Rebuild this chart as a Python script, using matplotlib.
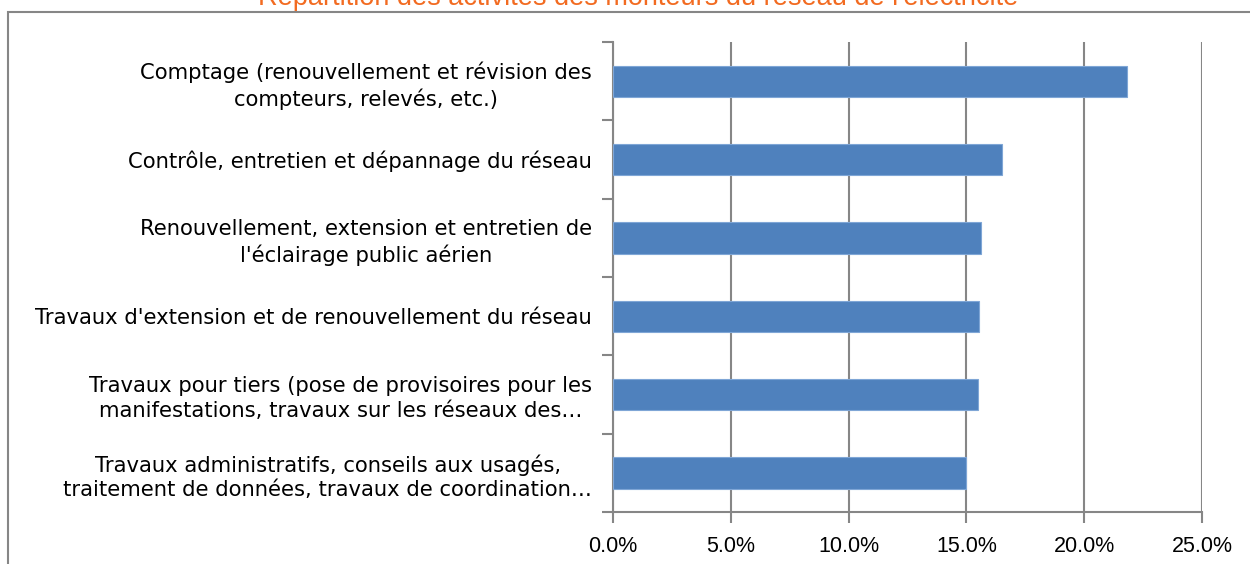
import matplotlib
matplotlib.use("Agg")
import matplotlib.pyplot as plt
from matplotlib.patches import Rectangle
from matplotlib.ticker import FuncFormatter, FixedLocator

# categories from bottom to top (as drawn)
categories = [
    "Travaux administratifs, conseils aux usagés,\ntraitement de données, travaux de coordination…",
    "Travaux pour tiers (pose de provisoires pour les\nmanifestations, travaux sur les réseaux des…",
    "Travaux d'extension et de renouvellement du réseau",
    "Renouvellement, extension et entretien de\nl'éclairage public aérien",
    "Contrôle, entretien et dépannage du réseau",
    "Comptage (renouvellement et révision des\ncompteurs, relevés, etc.)",
]
values = [0.150, 0.155, 0.1555, 0.156, 0.165, 0.218]
xticks = [0.0, 0.05, 0.10, 0.15, 0.20, 0.25]

title = "Répartition des activités des monteurs du réseau de l'électricité"

bar_color = "#4F81BD"
grid_color = "#868686"

fig = plt.figure(figsize=(12.5, 5.64), dpi=100)
ax = fig.add_axes([613 / 1250, 52 / 564, 589 / 1250, 470 / 564])

pos = list(range(len(categories)))
ax.barh(pos, values, height=0.4, color=bar_color, edgecolor="#7FA6D6", linewidth=0.8, zorder=3)

ax.set_xlim(0, 0.25)
ax.set_ylim(-0.5, len(categories) - 0.5)
ax.xaxis.set_major_locator(FixedLocator(xticks))
ax.xaxis.set_major_formatter(FuncFormatter(lambda v, p: f"{v * 100:.1f}%"))
ax.grid(axis="x", color=grid_color, linewidth=1.5, zorder=1)

ax.set_yticks(pos)
ax.set_yticklabels(categories, fontsize=15.2, family="DejaVu Sans",
                   multialignment="center", linespacing=1.3)
ax.set_yticks([p - 0.5 for p in range(len(categories) + 1)], minor=True)
ax.tick_params(axis="y", which="major", length=0, pad=15)
ax.tick_params(axis="y", which="minor", length=8, width=1.5, color=grid_color, direction="out")
ax.tick_params(axis="x", length=8, width=1.5, color=grid_color, direction="out", pad=9)
for lab in ax.get_xticklabels():
    lab.set_family("Liberation Sans")
    lab.set_fontsize(15.5)

for side in ["top", "right"]:
    ax.spines[side].set_visible(False)
for side in ["left", "bottom"]:
    ax.spines[side].set_color(grid_color)
    ax.spines[side].set_linewidth(1.5)

# outer chart border, partly outside the picture
fig.patches.append(Rectangle((8 / 1250, -0.1), 1.2, 1.1 - 12 / 564,
                             transform=fig.transFigure, fill=False,
                             edgecolor=grid_color, linewidth=1.5))

fig.text(638 / 1250, 1 - 5 / 564, title, color="#F26B21", fontsize=19.5,
         family="Liberation Sans", ha="center", va="baseline")

fig.savefig("out.png", dpi=100)
